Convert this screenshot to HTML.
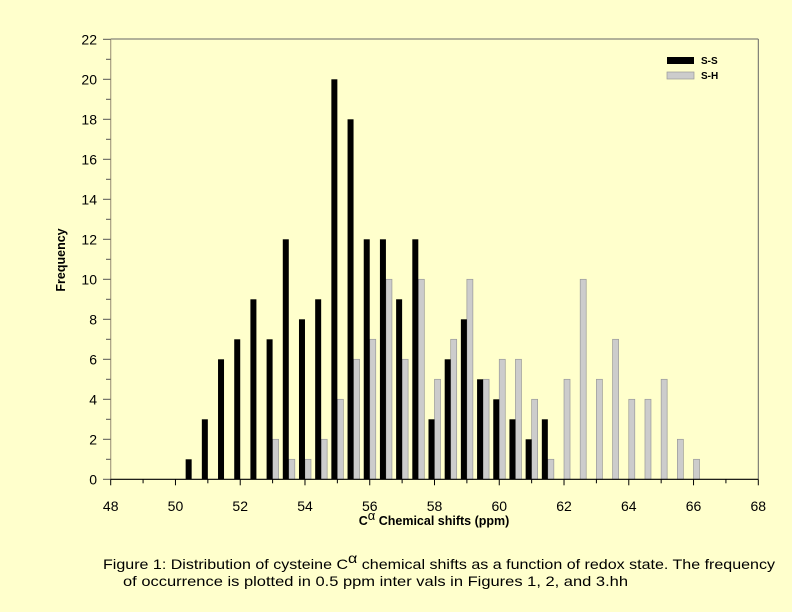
<!DOCTYPE html>
<html><head><meta charset="utf-8"><style>
html,body{margin:0;padding:0;background:#ffffcc;}
svg{display:block}
</style></head><body>
<svg width="792" height="612" xmlns="http://www.w3.org/2000/svg" font-family="Liberation Sans, sans-serif">
<rect width="792" height="612" fill="#ffffcc"/>
<g id="bars"></g>
<script>
(function(){
var ns="http://www.w3.org/2000/svg";
var g=document.getElementById('bars');
var X0=110.7,SX=32.38,Y0=479.3,SY=20;
function X(v){return X0+(v-48)*SX;}
function Y(v){return Y0-v*SY;}
var blk=[[50.5,1],[51,3],[51.5,6],[52,7],[52.5,9],[53,7],[53.5,12],[54,8],[54.5,9],[55,20],[55.5,18],[56,12],[56.5,12],[57,9],[57.5,12],[58,3],[58.5,6],[59,8],[59.5,5],[60,4],[60.5,3],[61,2],[61.5,3]];
var gry=[[53,2],[53.5,1],[54,1],[54.5,2],[55,4],[55.5,6],[56,7],[56.5,10],[57,6],[57.5,10],[58,5],[58.5,7],[59,10],[59.5,5],[60,6],[60.5,6],[61,4],[61.5,1],[62,5],[62.5,10],[63,5],[63.5,7],[64,4],[64.5,4],[65,5],[65.5,2],[66,1]];
function r(x,y,w,h,f,s){var e=document.createElementNS(ns,'rect');e.setAttribute('x',x);e.setAttribute('y',y);e.setAttribute('width',w);e.setAttribute('height',h);e.setAttribute('fill',f);if(s){e.setAttribute('stroke',s);e.setAttribute('stroke-width','0.7');}g.appendChild(e);}
gry.forEach(function(d){r(X(d[0]),Y(d[1]),6,d[1]*SY,'#cccccc','#999999');});
blk.forEach(function(d){r(X(d[0])-6,Y(d[1]),6,d[1]*SY,'#000');});
function l(x1,y1,x2,y2,c,w){var e=document.createElementNS(ns,'line');e.setAttribute('x1',x1);e.setAttribute('y1',y1);e.setAttribute('x2',x2);e.setAttribute('y2',y2);e.setAttribute('stroke',c);e.setAttribute('stroke-width',w||1);g.appendChild(e);}
function t(x,y,s,sz,anc,wt){var e=document.createElementNS(ns,'text');e.setAttribute('x',x);e.setAttribute('y',y);e.setAttribute('font-size',sz);e.setAttribute('text-anchor',anc);e.setAttribute('fill','#000');if(wt)e.setAttribute('font-weight',wt);e.textContent=s;g.appendChild(e);}
l(X0,39,758.3,39,'#666',1);
l(758.3,39,758.3,Y0,'#666',1);
l(X0,39,X0,Y0,'#a89f80',1.2);
l(X0,Y0,758.3,Y0,'#000',1.2);
for(var i=0;i<=22;i++){var y=Y(i);l(i%2?106:103,y,X0,y,'#555',1);if(i%2==0)t(97,y+5,String(i),14,'end');}
for(var v=48;v<=68;v++){var x=X(v);l(x,Y0,x,v%2?Y0+4:Y0+6,'#000',1);if(v%2==0)t(x,511,String(v),14,'middle');}
})();
</script>
<text x="434" y="525" font-size="12.5" font-weight="bold" text-anchor="middle">C<tspan dy="-5" font-size="13" font-weight="normal">α</tspan><tspan dy="5"> Chemical shifts (ppm)</tspan></text>
<text transform="translate(65,260) rotate(-90)" font-size="12.5" font-weight="bold" text-anchor="middle">Frequency</text>
<rect x="667" y="57" width="27" height="7" fill="#000"/>
<rect x="667" y="72" width="27" height="7" fill="#cccccc" stroke="#999" stroke-width="0.7"/>
<text x="701" y="64" font-size="10" font-weight="bold">S-S</text>
<text x="701" y="79" font-size="10" font-weight="bold">S-H</text>
<text x="103" y="569" font-size="14" textLength="672" lengthAdjust="spacingAndGlyphs">Figure 1: Distribution of cysteine C<tspan dy="-6">α</tspan><tspan dy="6"> chemical shifts as a function of redox state.  The frequency</tspan></text>
<text x="123" y="586" font-size="14" textLength="505" lengthAdjust="spacingAndGlyphs">of occurrence is plotted in 0.5 ppm inter vals in Figures 1, 2, and 3.hh</text>
</svg>
</body></html>
